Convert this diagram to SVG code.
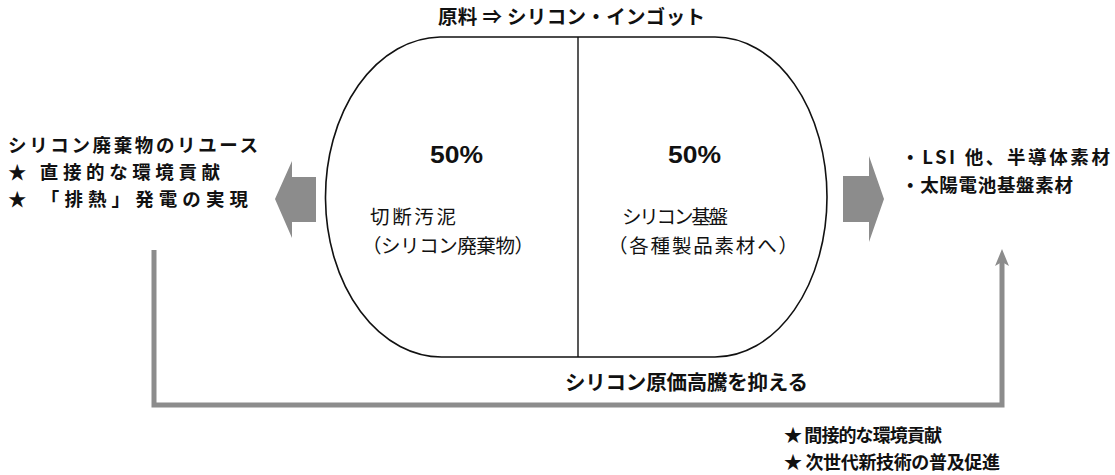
<svg xmlns="http://www.w3.org/2000/svg" width="1115" height="475" viewBox="0 0 1115 475">
<style>
.b{font-family:"Noto Sans CJK JP","Liberation Sans",sans-serif;font-weight:700;font-size:20.5px;fill:#111}
.l{font-family:"Noto Sans CJK JP","Liberation Sans",sans-serif;font-weight:700;font-size:18.5px;fill:#111}
.r{font-family:"Noto Sans CJK JP","Liberation Sans",sans-serif;font-weight:400;font-size:19.5px;fill:#111}
.p{font-family:"Liberation Sans",Arial,sans-serif;font-weight:700;font-size:23px;fill:#111}
.g{fill:#8c8c8c}
</style>
<defs>
<marker id="ah" viewBox="0 0 20 20" refX="4" refY="10" markerWidth="20" markerHeight="20" markerUnits="userSpaceOnUse" orient="auto">
<path d="M0,3 L17,10 L0,17 L4,10 Z" fill="#8c8c8c"/>
</marker>
</defs>
<rect width="1115" height="475" fill="#fff"/>
<g id="title">
<text class="b" x="438" y="24" style="font-size:19.5px" textLength="267" lengthAdjust="spacing">原料 ⇒ シリコン・インゴット</text>
</g>
<g id="ingot">
<path d="M440,37 L715,37 A112,160 0 0 1 715,357 L443,357 A116,160 0 0 1 440,37 Z" fill="#fff" stroke="#111" stroke-width="1.6"/>
<line x1="578" y1="37" x2="578" y2="357" stroke="#111" stroke-width="1.4"/>
<text class="p" x="430" y="163" textLength="53" lengthAdjust="spacingAndGlyphs">50%</text>
<text class="p" x="668" y="163" textLength="53" lengthAdjust="spacingAndGlyphs">50%</text>
<text class="r" x="370" y="224" textLength="86" lengthAdjust="spacing">切断汚泥</text>
<text class="r" x="362" y="253" textLength="172" lengthAdjust="spacing">（シリコン廃棄物）</text>
<text class="r" x="622" y="224" textLength="106" lengthAdjust="spacing">シリコン基盤</text>
<text class="r" x="608" y="253" textLength="190" lengthAdjust="spacing">（各種製品素材へ）</text>
</g>
<g id="left-arrow">
<polygon class="g" points="316,177 292,177 292,161 275,199 292,238 292,222 316,222"/>
</g>
<g id="right-arrow">
<polygon class="g" points="843,176 869,176 869,156 884,199 869,242 869,222 843,222"/>
</g>
<g id="left-text">
<text class="l" x="8" y="152" textLength="250" lengthAdjust="spacing">シリコン廃棄物のリユース</text>
<text class="l" x="8" y="179" textLength="212" lengthAdjust="spacing">★ 直接的な環境貢献</text>
<text class="l" x="8" y="206" textLength="240" lengthAdjust="spacing">★ 「排熱」発電の実現</text>
</g>
<g id="right-text">
<text class="l" x="901" y="164" textLength="209" lengthAdjust="spacing">・LSI 他、半導体素材</text>
<text class="l" x="901" y="192" textLength="172" lengthAdjust="spacing">・太陽電池基盤素材</text>
</g>
<g id="connectors">
<path d="M154,250 V405 H1002 V262" fill="none" stroke="#8c8c8c" stroke-width="5" marker-end="url(#ah)"/>
</g>
<g id="bottom-text">
<text class="b" x="565" y="390" textLength="243" lengthAdjust="spacing">シリコン原価高騰を抑える</text>
<text class="l" x="784" y="442" style="font-size:18px" textLength="158" lengthAdjust="spacing">★ 間接的な環境貢献</text>
<text class="l" x="784" y="469" style="font-size:18px" textLength="216" lengthAdjust="spacing">★ 次世代新技術の普及促進</text>
</g>
</svg>
